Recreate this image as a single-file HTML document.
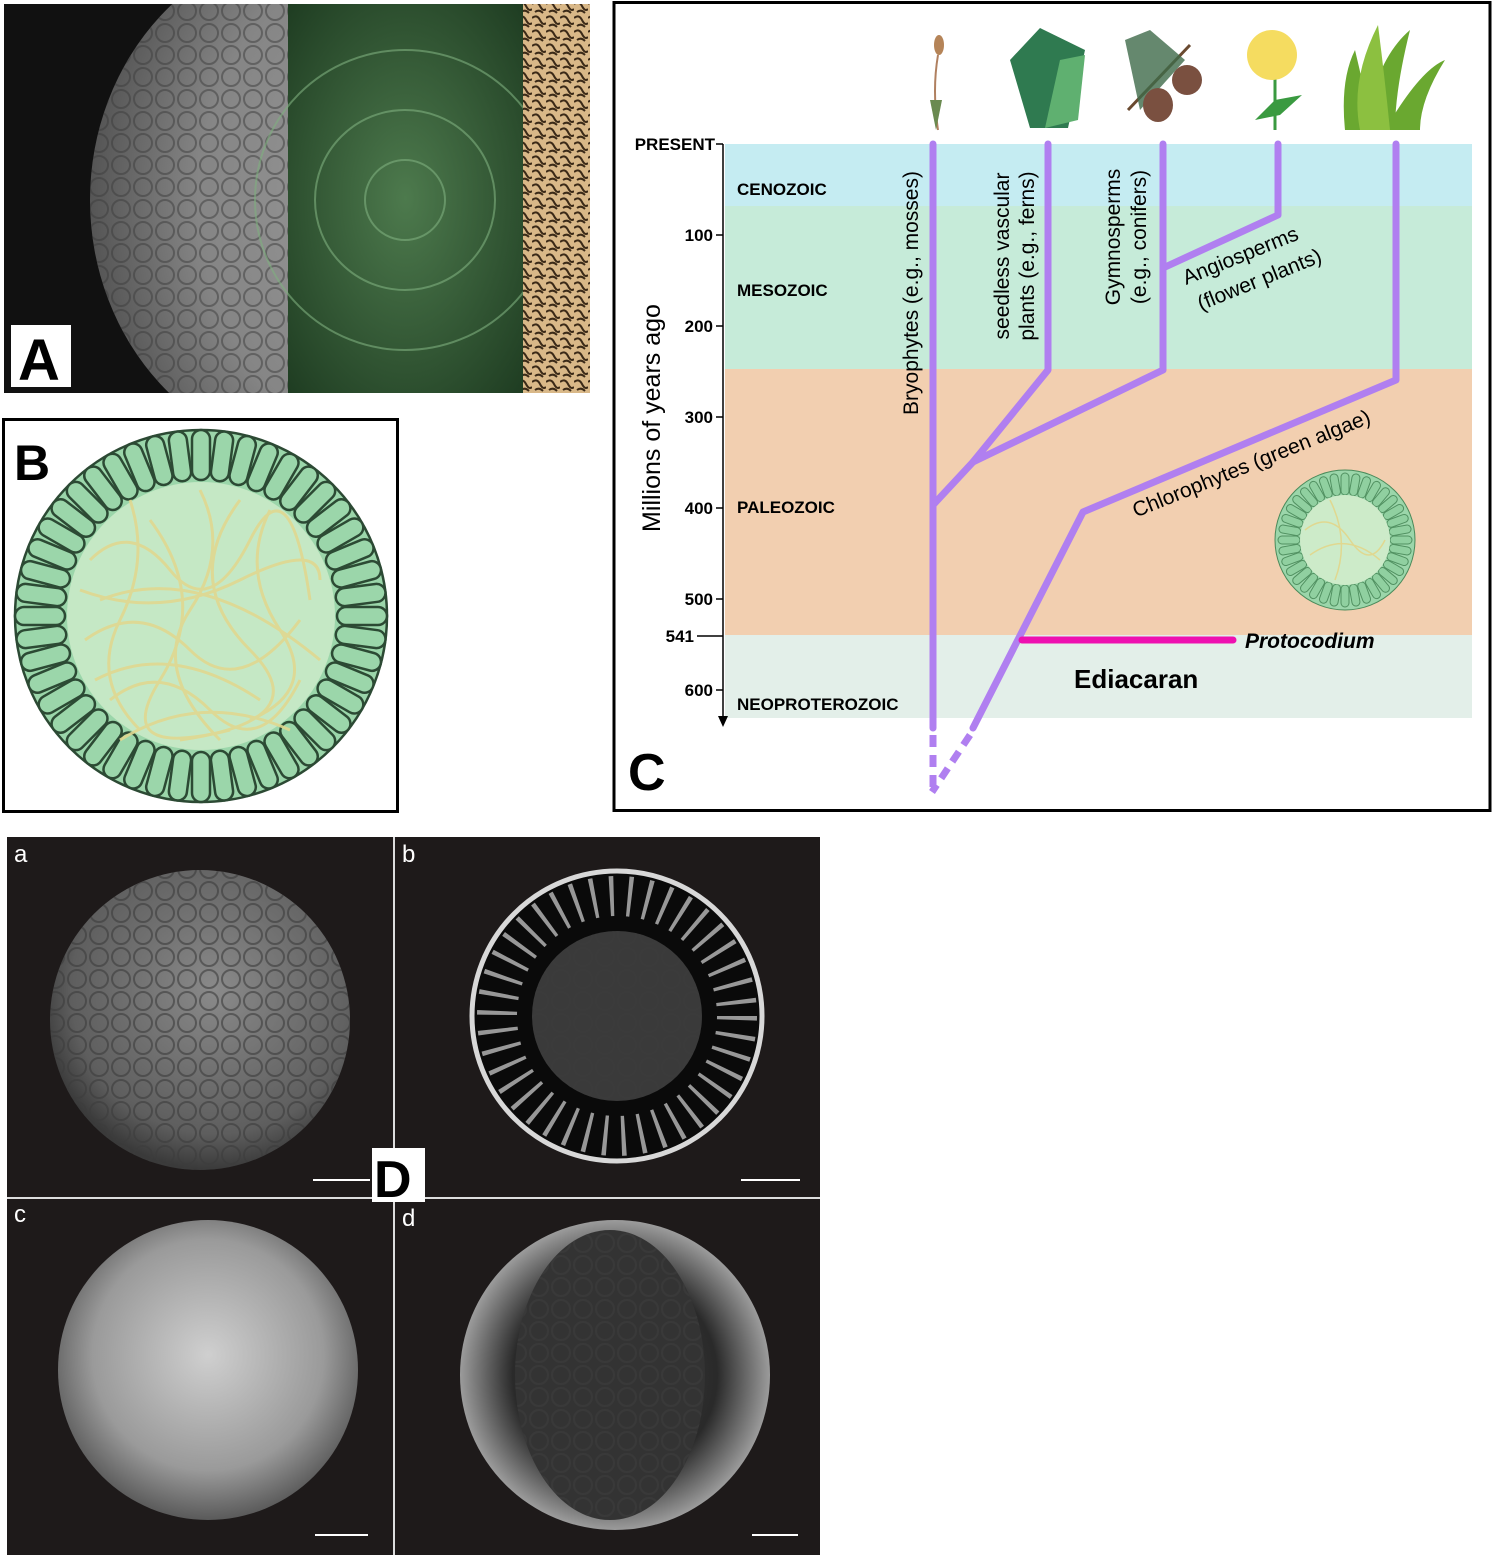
<!DOCTYPE html>
<html><head><meta charset="utf-8"><style>
html,body{margin:0;padding:0;background:#fff}
svg{display:block}
text{font-family:"Liberation Sans",sans-serif}
</style></head><body>
<svg width="1504" height="1556" viewBox="0 0 1504 1556" xmlns="http://www.w3.org/2000/svg">
<defs>
<clipPath id="clipA"><rect x="4" y="4" width="284" height="389"/></clipPath>
<clipPath id="clipSph"><ellipse cx="330" cy="200" rx="240" ry="260"/></clipPath>
<radialGradient id="semA" cx="0.75" cy="0.5" r="0.75"><stop offset="0" stop-color="#a0a0a0"/><stop offset="0.7" stop-color="#858585"/><stop offset="1" stop-color="#555"/></radialGradient>
<radialGradient id="grn" cx="0.5" cy="0.5" r="0.7"><stop offset="0" stop-color="#4d7a4d"/><stop offset="1" stop-color="#1f3d22"/></radialGradient>
<radialGradient id="sa" cx="0.55" cy="0.4" r="0.6"><stop offset="0" stop-color="#8a8a8a"/><stop offset="0.8" stop-color="#5e5e5e"/><stop offset="1" stop-color="#3a3a3a"/></radialGradient>
<radialGradient id="sc" cx="0.5" cy="0.45" r="0.55"><stop offset="0" stop-color="#cfcfcf"/><stop offset="0.7" stop-color="#9a9a9a"/><stop offset="1" stop-color="#5a5a5a"/></radialGradient>
<radialGradient id="sd" cx="0.5" cy="0.5" r="0.55"><stop offset="0" stop-color="#3a3a3a"/><stop offset="0.6" stop-color="#2a2a2a"/><stop offset="1" stop-color="#bdbdbd"/></radialGradient>
<pattern id="tan" width="14" height="14" patternUnits="userSpaceOnUse"><rect width="14" height="14" fill="#d9b888"/><path d="M0 4 Q5 0 8 6 T14 9 M3 12 Q7 9 11 13" stroke="#3b2a18" stroke-width="2" fill="none"/></pattern>
<pattern id="bumps" width="22" height="22" patternUnits="userSpaceOnUse"><circle cx="11" cy="11" r="9" fill="none" stroke="#3c3c3c" stroke-width="2"/></pattern>
<rect id="cell" x="192" y="430" width="18" height="50" rx="9" fill="#9bd6aa" stroke="#2c4a34" stroke-width="2.5"/>
<rect id="cellS" x="1341" y="473" width="8" height="22" rx="4" fill="#8fd0a0" stroke="#4a8a5a" stroke-width="1"/>
</defs>

<!-- Panel A -->
<g clip-path="url(#clipA)">
<rect x="4" y="4" width="284" height="389" fill="#111"/>
<ellipse cx="330" cy="200" rx="240" ry="260" fill="url(#semA)"/>
<rect x="4" y="4" width="284" height="389" fill="url(#bumps)" opacity="0.5" clip-path="url(#clipSph)"/>
</g>
<rect x="288" y="4" width="235" height="389" fill="url(#grn)"/>
<g stroke="#7fb07f" stroke-width="2" fill="none" opacity="0.6">
<circle cx="405" cy="200" r="40"/><circle cx="405" cy="200" r="90"/><circle cx="405" cy="200" r="150"/>
</g>
<rect x="523" y="4" width="67" height="389" fill="url(#tan)"/>
<rect x="11" y="325" width="60" height="62" fill="#fff"/>
<text x="18" y="380" font-size="58" font-weight="bold">A</text>

<!-- Panel B -->
<rect x="3.5" y="419.5" width="394" height="392" fill="#fff" stroke="#000" stroke-width="3"/>
<circle cx="201" cy="616" r="186" fill="#9bd6aa" stroke="#2c4a34" stroke-width="2.5"/>
<g>
<use href="#cell" transform="rotate(0 201 616)"/><use href="#cell" transform="rotate(7.5 201 616)"/><use href="#cell" transform="rotate(15 201 616)"/><use href="#cell" transform="rotate(22.5 201 616)"/><use href="#cell" transform="rotate(30 201 616)"/><use href="#cell" transform="rotate(37.5 201 616)"/><use href="#cell" transform="rotate(45 201 616)"/><use href="#cell" transform="rotate(52.5 201 616)"/><use href="#cell" transform="rotate(60 201 616)"/><use href="#cell" transform="rotate(67.5 201 616)"/><use href="#cell" transform="rotate(75 201 616)"/><use href="#cell" transform="rotate(82.5 201 616)"/><use href="#cell" transform="rotate(90 201 616)"/><use href="#cell" transform="rotate(97.5 201 616)"/><use href="#cell" transform="rotate(105 201 616)"/><use href="#cell" transform="rotate(112.5 201 616)"/><use href="#cell" transform="rotate(120 201 616)"/><use href="#cell" transform="rotate(127.5 201 616)"/><use href="#cell" transform="rotate(135 201 616)"/><use href="#cell" transform="rotate(142.5 201 616)"/><use href="#cell" transform="rotate(150 201 616)"/><use href="#cell" transform="rotate(157.5 201 616)"/><use href="#cell" transform="rotate(165 201 616)"/><use href="#cell" transform="rotate(172.5 201 616)"/><use href="#cell" transform="rotate(180 201 616)"/><use href="#cell" transform="rotate(187.5 201 616)"/><use href="#cell" transform="rotate(195 201 616)"/><use href="#cell" transform="rotate(202.5 201 616)"/><use href="#cell" transform="rotate(210 201 616)"/><use href="#cell" transform="rotate(217.5 201 616)"/><use href="#cell" transform="rotate(225 201 616)"/><use href="#cell" transform="rotate(232.5 201 616)"/><use href="#cell" transform="rotate(240 201 616)"/><use href="#cell" transform="rotate(247.5 201 616)"/><use href="#cell" transform="rotate(255 201 616)"/><use href="#cell" transform="rotate(262.5 201 616)"/><use href="#cell" transform="rotate(270 201 616)"/><use href="#cell" transform="rotate(277.5 201 616)"/><use href="#cell" transform="rotate(285 201 616)"/><use href="#cell" transform="rotate(292.5 201 616)"/><use href="#cell" transform="rotate(300 201 616)"/><use href="#cell" transform="rotate(307.5 201 616)"/><use href="#cell" transform="rotate(315 201 616)"/><use href="#cell" transform="rotate(322.5 201 616)"/><use href="#cell" transform="rotate(330 201 616)"/><use href="#cell" transform="rotate(337.5 201 616)"/><use href="#cell" transform="rotate(345 201 616)"/><use href="#cell" transform="rotate(352.5 201 616)"/>
</g>
<circle cx="201" cy="616" r="134" fill="#c5e8c5"/>
<g stroke="#e0d890" stroke-width="3" fill="none" opacity="0.9">
<path d="M90 560 Q130 520 170 570 T250 540 T310 600"/><path d="M85 640 Q140 600 190 650 T300 620"/><path d="M110 700 Q160 660 210 710 T300 680"/><path d="M130 500 Q150 560 120 620 T140 730"/><path d="M200 490 Q230 550 190 610 T220 740"/><path d="M270 510 Q240 570 280 630 T250 720"/><path d="M100 600 Q200 560 320 660"/><path d="M120 740 Q200 690 290 730"/><path d="M150 520 Q210 600 160 680 T230 730"/><path d="M240 500 Q180 580 250 650 T180 740"/><path d="M80 590 Q160 620 240 580 T320 580"/><path d="M95 680 Q170 640 260 700"/>
</g>
<text x="14" y="480" font-size="50" font-weight="bold">B</text>

<!-- Panel C -->
<rect x="614" y="2.5" width="876" height="808" fill="#fff" stroke="#000" stroke-width="3"/>
<rect x="725" y="144" width="747" height="62" fill="#c5ecf2"/>
<rect x="725" y="206" width="747" height="163" fill="#c6ebd9"/>
<rect x="725" y="369" width="747" height="266" fill="#f2cfb0"/>
<rect x="725" y="635" width="747" height="83" fill="#e3efe9"/>
<g stroke="#000" stroke-width="1.5">
<line x1="723" y1="144" x2="723" y2="718"/>
<line x1="716" y1="144" x2="723" y2="144"/><line x1="716" y1="235" x2="723" y2="235"/><line x1="716" y1="326" x2="723" y2="326"/><line x1="716" y1="417" x2="723" y2="417"/><line x1="716" y1="508" x2="723" y2="508"/><line x1="716" y1="599" x2="723" y2="599"/><line x1="697" y1="636" x2="723" y2="636"/><line x1="716" y1="690" x2="723" y2="690"/>
</g>
<path d="M718 716 L728 716 L723 727 Z" fill="#000"/>
<g font-size="17" font-weight="bold" text-anchor="end">
<text x="715" y="150">PRESENT</text><text x="713" y="241">100</text><text x="713" y="332">200</text><text x="713" y="423">300</text><text x="713" y="514">400</text><text x="713" y="605">500</text><text x="694" y="642">541</text><text x="713" y="696">600</text>
</g>
<g font-size="17" font-weight="bold">
<text x="737" y="195">CENOZOIC</text><text x="737" y="296">MESOZOIC</text><text x="737" y="513">PALEOZOIC</text><text x="737" y="710">NEOPROTEROZOIC</text>
</g>
<text x="1074" y="688" font-size="26" font-weight="bold">Ediacaran</text>
<text transform="translate(660 418) rotate(-90)" font-size="25" text-anchor="middle">Millions of years ago</text>

<circle cx="1345" cy="540" r="70" fill="#9bd6aa" stroke="#4a8a5a"/>
<g opacity="0.9">
<use href="#cellS" transform="rotate(0 1345 540)"/><use href="#cellS" transform="rotate(10 1345 540)"/><use href="#cellS" transform="rotate(20 1345 540)"/><use href="#cellS" transform="rotate(30 1345 540)"/><use href="#cellS" transform="rotate(40 1345 540)"/><use href="#cellS" transform="rotate(50 1345 540)"/><use href="#cellS" transform="rotate(60 1345 540)"/><use href="#cellS" transform="rotate(70 1345 540)"/><use href="#cellS" transform="rotate(80 1345 540)"/><use href="#cellS" transform="rotate(90 1345 540)"/><use href="#cellS" transform="rotate(100 1345 540)"/><use href="#cellS" transform="rotate(110 1345 540)"/><use href="#cellS" transform="rotate(120 1345 540)"/><use href="#cellS" transform="rotate(130 1345 540)"/><use href="#cellS" transform="rotate(140 1345 540)"/><use href="#cellS" transform="rotate(150 1345 540)"/><use href="#cellS" transform="rotate(160 1345 540)"/><use href="#cellS" transform="rotate(170 1345 540)"/><use href="#cellS" transform="rotate(180 1345 540)"/><use href="#cellS" transform="rotate(190 1345 540)"/><use href="#cellS" transform="rotate(200 1345 540)"/><use href="#cellS" transform="rotate(210 1345 540)"/><use href="#cellS" transform="rotate(220 1345 540)"/><use href="#cellS" transform="rotate(230 1345 540)"/><use href="#cellS" transform="rotate(240 1345 540)"/><use href="#cellS" transform="rotate(250 1345 540)"/><use href="#cellS" transform="rotate(260 1345 540)"/><use href="#cellS" transform="rotate(270 1345 540)"/><use href="#cellS" transform="rotate(280 1345 540)"/><use href="#cellS" transform="rotate(290 1345 540)"/><use href="#cellS" transform="rotate(300 1345 540)"/><use href="#cellS" transform="rotate(310 1345 540)"/><use href="#cellS" transform="rotate(320 1345 540)"/><use href="#cellS" transform="rotate(330 1345 540)"/><use href="#cellS" transform="rotate(340 1345 540)"/><use href="#cellS" transform="rotate(350 1345 540)"/>
</g>
<circle cx="1345" cy="540" r="45" fill="#cdebc9"/>
<g stroke="#e0d890" stroke-width="1.5" fill="none"><path d="M1305 530 Q1330 510 1350 540 T1385 540"/><path d="M1310 555 Q1345 530 1380 560"/><path d="M1330 500 Q1350 540 1335 580"/></g>

<g stroke="#b07ff0" stroke-width="7" fill="none" stroke-linejoin="round" stroke-linecap="round">
<path d="M933 144 L933 728"/>
<path d="M933 505 L973 462 L1048 370 L1048 144"/>
<path d="M973 462 L1163 370 L1163 144"/>
<path d="M1163 268 L1278 215 L1278 144"/>
<path d="M1396 144 L1396 380 L1083 512 L973 728"/>
<path d="M933 735 L933 790" stroke-dasharray="12 8" stroke-linecap="butt"/>
<path d="M970 735 L932 792" stroke-dasharray="12 8" stroke-linecap="butt"/>
</g>
<line x1="1022" y1="640" x2="1233" y2="640" stroke="#ee10b0" stroke-width="7" stroke-linecap="round"/>
<text x="1245" y="648" font-size="21" font-weight="bold" font-style="italic">Protocodium</text>

<g font-size="21">
<text transform="translate(918 293) rotate(-90)" text-anchor="middle">Bryophytes (e.g., mosses)</text>
<text transform="translate(1009 256) rotate(-90)" text-anchor="middle">seedless vascular</text>
<text transform="translate(1034 256) rotate(-90)" text-anchor="middle">plants (e.g., ferns)</text>
<text transform="translate(1120 237) rotate(-90)" text-anchor="middle">Gymnosperms</text>
<text transform="translate(1146 237) rotate(-90)" text-anchor="middle">(e.g., conifers)</text>
<text transform="translate(1243 262) rotate(-22)" text-anchor="middle">Angiosperms</text>
<text transform="translate(1262 286) rotate(-22)" text-anchor="middle">(flower plants)</text>
<text transform="translate(1254 470) rotate(-22)" text-anchor="middle">Chlorophytes (green algae)</text>
</g>

<g>
<path d="M938 130 Q932 90 938 55" stroke="#b08060" stroke-width="2" fill="none"/>
<ellipse cx="939" cy="45" rx="5" ry="10" fill="#b58458"/>
<path d="M936 130 L930 100 L942 100 Z" fill="#6a8a50"/>
<path d="M1030 128 L1010 60 L1040 28 L1085 50 L1068 128 Z" fill="#2f7a50"/>
<path d="M1045 128 L1060 60 L1085 55 L1078 120 Z" fill="#5fb070"/>
<path d="M1128 110 L1190 45" stroke="#6a4a30" stroke-width="3"/>
<path d="M1125 40 L1150 30 L1185 60 L1140 110 Z" fill="#3e6a4a" opacity="0.8"/>
<ellipse cx="1158" cy="105" rx="15" ry="17" fill="#7a5040"/>
<ellipse cx="1187" cy="80" rx="15" ry="15" fill="#7a5040"/>
<path d="M1275 130 L1275 75" stroke="#3a9a40" stroke-width="3"/>
<path d="M1255 120 L1275 100 L1302 95 L1280 115 Z" fill="#3a9a40"/>
<circle cx="1272" cy="55" r="25" fill="#f5dc60"/>
<path d="M1345 130 Q1340 80 1355 50 Q1365 90 1370 130 Z M1365 130 Q1375 60 1410 30 Q1395 90 1395 130 Z M1385 130 Q1420 70 1445 60 Q1420 100 1420 130 Z" fill="#6aa830"/>
<path d="M1360 130 Q1350 80 1378 25 Q1385 80 1390 130 Z" fill="#8cc040"/>
</g>
<text x="628" y="790" font-size="52" font-weight="bold">C</text>

<!-- Panel D -->
<rect x="7" y="837" width="813" height="718" fill="#1e1a1a"/>
<line x1="394" y1="837" x2="394" y2="1555" stroke="#ddd" stroke-width="2"/>
<line x1="7" y1="1198" x2="820" y2="1198" stroke="#ddd" stroke-width="2"/>
<circle cx="200" cy="1020" r="150" fill="url(#sa)"/>
<circle cx="200" cy="1020" r="150" fill="url(#bumps)" opacity="0.6"/>
<circle cx="617" cy="1016" r="145" fill="#0a0a0a" stroke="#d8d8d8" stroke-width="5"/>
<circle cx="617" cy="1016" r="120" fill="none" stroke="#bbb" stroke-width="40" stroke-dasharray="4 14" opacity="0.8"/>
<circle cx="617" cy="1016" r="85" fill="#3a3a3a"/>
<circle cx="617" cy="1016" r="85" fill="url(#bumps)" opacity="0.5"/>
<circle cx="208" cy="1370" r="150" fill="url(#sc)"/>
<circle cx="615" cy="1375" r="155" fill="url(#sd)"/>
<ellipse cx="610" cy="1375" rx="95" ry="145" fill="#333"/>
<ellipse cx="610" cy="1375" rx="95" ry="145" fill="url(#bumps)" opacity="0.7"/>
<g stroke="#fff" stroke-width="2">
<line x1="313" y1="1180" x2="370" y2="1180"/><line x1="741" y1="1180" x2="800" y2="1180"/><line x1="315" y1="1535" x2="368" y2="1535"/><line x1="752" y1="1535" x2="798" y2="1535"/>
</g>
<g fill="#fff" font-size="24"><text x="14" y="862">a</text><text x="402" y="862">b</text><text x="14" y="1222">c</text><text x="402" y="1226">d</text></g>
<rect x="372" y="1148" width="53" height="54" fill="#fff"/>
<text x="374" y="1197" font-size="52" font-weight="bold">D</text>
</svg>
</body></html>
